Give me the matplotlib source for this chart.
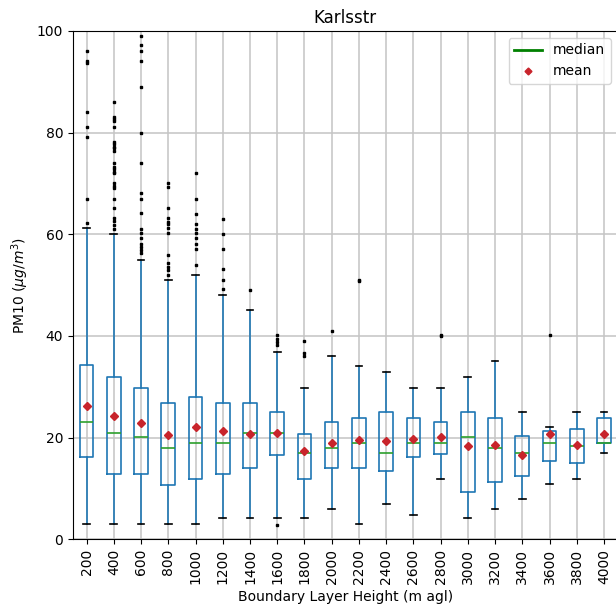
import matplotlib
matplotlib.use('Agg')
import matplotlib.pyplot as plt
from matplotlib.lines import Line2D

# Boundary layer height classes (m agl)
heights = [200, 400, 600, 800, 1000, 1200, 1400, 1600, 1800, 2000,
           2200, 2400, 2600, 2800, 3000, 3200, 3400, 3600, 3800, 4000]

# box statistics (PM10, ug/m3)
q1 = [16.1, 12.9, 12.9, 10.7, 11.9, 12.9, 14.1, 16.5, 11.9, 14.1,
      14.1, 13.5, 16.1, 16.8, 9.4, 11.3, 12.5, 15.4, 15.1, 18.9]
med = [23.1, 20.9, 20.1, 17.9, 18.9, 18.9, 20.9, 20.9, 17.0, 17.9,
       18.9, 17.0, 18.9, 18.9, 20.1, 17.9, 17.0, 18.9, 18.4, 18.9]
q3 = [34.3, 32.0, 29.8, 26.9, 27.9, 26.9, 26.9, 25.0, 20.8, 23.1,
      23.9, 25.0, 23.9, 23.1, 25.0, 23.9, 20.3, 21.4, 21.7, 23.9]
whislo = [3.1, 3.1, 3.1, 3.1, 3.1, 4.1, 4.1, 4.1, 4.1, 6.0,
          3.0, 7.0, 4.8, 11.9, 4.1, 6.0, 7.9, 10.9, 11.9, 17.0]
whishi = [61.2, 60.1, 54.9, 51.1, 51.9, 48.1, 45.1, 36.9, 29.8, 36.1,
          34.0, 32.9, 29.8, 29.8, 32.0, 35.0, 25.0, 22.0, 25.0, 25.0]
means = [26.3, 24.2, 22.9, 20.6, 22.1, 21.3, 20.8, 21.0, 17.4, 19.0,
         19.5, 19.3, 19.8, 20.2, 18.4, 18.6, 16.6, 20.7, 18.6, 20.8]
fliers = [
    [96.1, 94.0, 93.8, 84.1, 81.2, 79.1, 66.9, 62.2],
    [86.1, 83.1, 82.7, 82.3, 81.2, 78.2, 77.8, 77.2, 76.9, 76.3, 74.1, 73.3,
     72.8, 72.3, 72.0, 70.0, 69.6, 69.1, 66.9, 65.1, 63.2, 62.6, 61.8, 61.0],
    [99.1, 97.2, 96.1, 94.0, 89.0, 80.0, 74.1, 68.1, 66.9, 64.1, 61.0, 60.2,
     59.2, 58.1, 57.6, 56.9, 56.3],
    [70.0, 69.4, 65.1, 63.2, 62.5, 62.0, 61.2, 60.2, 55.9, 54.3, 53.6, 53.0, 52.0],
    [72.0, 66.9, 64.0, 62.0, 61.0, 60.2, 59.2, 58.1, 57.1, 54.0],
    [63.0, 60.0, 57.1, 53.1, 51.0, 49.2],
    [49.0],
    [40.2, 39.5, 38.9, 38.2, 2.9],
    [39.0, 36.7, 36.1],
    [41.0],
    [51.0, 50.8],
    [],
    [],
    [40.1, 40.0],
    [],
    [],
    [],
    [40.1],
    [],
    [],
]

stats = []
for i in range(len(heights)):
    stats.append({'med': med[i], 'q1': q1[i], 'q3': q3[i],
                  'whislo': whislo[i], 'whishi': whishi[i],
                  'mean': means[i], 'fliers': fliers[i]})

blue = '#1f77b4'
green = '#2ca02c'
red = '#c8242b'

fig = plt.figure(figsize=(6.16, 6.11), dpi=100)
ax = fig.add_axes([73 / 616, (611 - 539.3) / 611, (617.6 - 73) / 616, (539.3 - 31) / 611])

ax.bxp(stats, positions=range(1, len(heights) + 1), widths=0.5, showmeans=True,
       boxprops=dict(color=blue, linewidth=1.2),
       whiskerprops=dict(color=blue, linewidth=1.2),
       capprops=dict(color='black', linewidth=1.2),
       medianprops=dict(color=green, linewidth=1.2),
       meanprops=dict(marker='D', markerfacecolor=red, markeredgecolor=red, markersize=4.5),
       flierprops=dict(marker='s', markerfacecolor='black', markeredgecolor='black', markersize=1.5))

ax.set_xlim(0.5, len(heights) + 0.5)
ax.set_ylim(0, 100)
ax.set_xticks(range(1, len(heights) + 1))
ax.set_xticklabels([str(h) for h in heights], rotation=90)
ax.set_yticks([0, 20, 40, 60, 80, 100])
ax.grid(True, color='#c4c4c4', linewidth=1.1)
ax.set_axisbelow(True)

ax.set_title('Karlsstr', fontsize=12)
ax.set_xlabel('Boundary Layer Height (m agl)')
ax.set_ylabel(r'PM10 ($\mu g/m^3$)')

handles = [Line2D([0], [0], color='green', linewidth=2),
           Line2D([0], [0], marker='D', color=red, linestyle='None', markersize=3.5)]
ax.legend(handles, ['median', 'mean'], loc='upper right')

plt.savefig('out.png', dpi=100)
